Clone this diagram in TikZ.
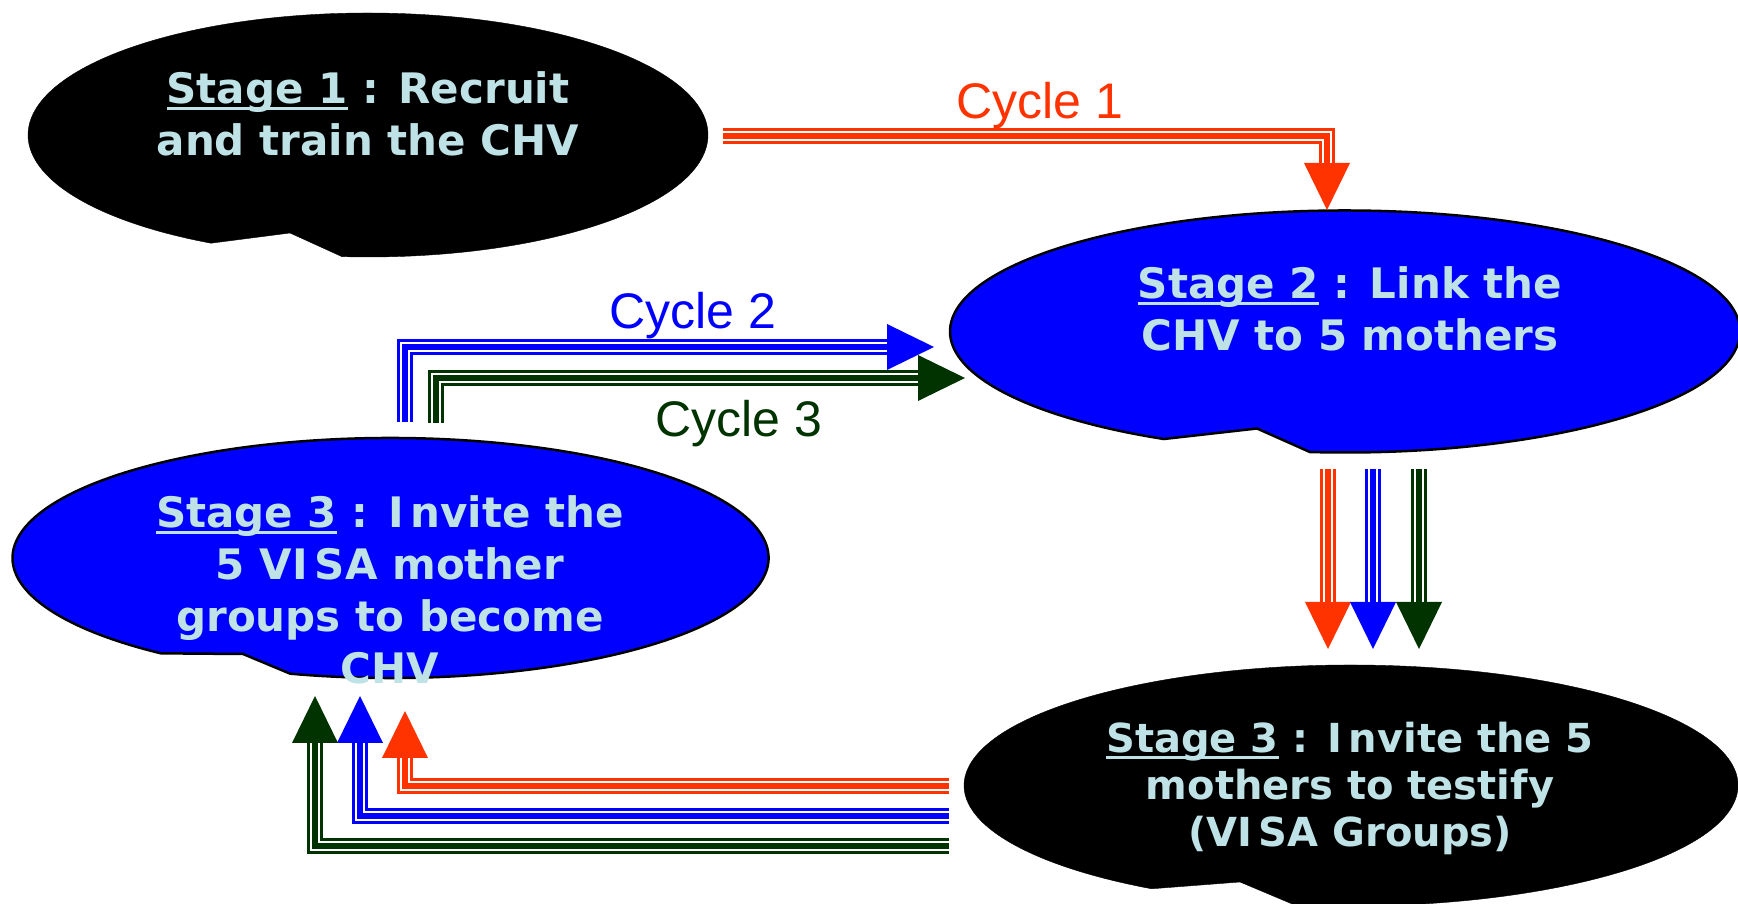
\documentclass[tikz,border=0pt]{standalone}
\usepackage{fontspec}
\setmainfont{DejaVu Sans}
\newfontfamily\cyclefont{Liberation Sans}
\usetikzlibrary{arrows.meta,calc}

\definecolor{cycred}{RGB}{255,51,0}
\definecolor{cycblue}{RGB}{0,0,255}
\definecolor{cycgreen}{RGB}{0,51,0}
\definecolor{stagetext}{RGB}{190,226,230}

% underline just below the baseline, the g runs through it
\newcommand\stageul[1]{\setbox0\hbox{#1}\rlap{\rule[-6.5pt]{\wd0}{3pt}}\box0\relax}

% oval with a notch in its lower edge
% #1 centre, #2 #3 radii, #4 #5 angles where the notch starts/ends, #6 notch tip, #7 look
\newcommand\stagebubble[7]{%
    \filldraw[#7] (#1) ++(#4:#2 and #3)
        arc[start angle=#4, end angle=#5+360, x radius=#2, y radius=#3]
        -- ($(#1)+(#6)$) -- cycle;
}

\begin{document}
\begin{tikzpicture}[x=1pt,y=1pt,
    tripleline/.style={draw=#1, line width=16pt,
        -{Triangle[length=47pt,width=46pt,line width=0pt]},
        postaction={draw=white, line width=10.5pt, shorten >=47pt, -},
        postaction={draw=#1, line width=5.5pt, shorten >=47pt, -}},
    stage/.style={anchor=north, inner sep=0pt, align=center, text=stagetext,
        font=\bfseries\fontsize{42}{52}\selectfont},
    cyclabel/.style={anchor=base, inner sep=0pt, font=\cyclefont\fontsize{50}{60}\selectfont}]
    \fill[white] (0,0) rectangle (1738,904);
    \useasboundingbox (0,0) rectangle (1738,904);

    % the four stages
    \stagebubble{368,769}{340}{122}{265.6}{242.5}{-78,-98}{fill=black}
    \stagebubble{1345,572.5}{395}{121}{264.9}{242.7}{-88,-97}{fill=cycblue,draw=black,line width=2.5pt}
    \stagebubble{390.5,346}{378}{120}{254.6}{232.6}{-147.5,-96}{fill=cycblue,draw=black,line width=2.5pt}
    \stagebubble{1351,118.5}{387}{120.5}{261.5}{239}{-111,-96.5}{fill=black}

    \node[stage] (st1) at (368,832.5) {\stageul{Stage 1} : Recruit\\and train the CHV};
    \node[stage] (st2) at (1350,637.5) {\stageul{Stage 2} : Link the\\CHV to 5 mothers};
    \node[stage] (st3l) at (390,408.5) {\stageul{Stage 3} : I\,nvite the\\5 VI\,SA mother\\groups to become\\CHV};
    \node[stage, font=\bfseries\fontsize{40}{47}\selectfont] (st3r) at (1350,182.5)
        {\stageul{Stage 3} : I\,nvite the 5\\mothers to testify\\(VI\,SA Groups)};

    \node[cyclabel, text=cycred] (lab1) at (1040,785) {Cycle 1};
    \node[cyclabel, text=cycblue] (lab2) at (693,575) {Cycle 2};
    \node[cyclabel, text=cycgreen] (lab3) at (739,467) {Cycle 3};

    % cycle 1 : stage 1 -> stage 2
    \coordinate (c1s) at (723,768);
    \coordinate (c1e) at (1327,694);
    \draw[tripleline=cycred] (c1s) -| (c1e);

    % cycles 2 and 3 : stage 3 -> stage 2
    \coordinate (c2s) at (405,482);
    \coordinate (c2e) at (934,557);
    \coordinate (c3s) at (436,481);
    \coordinate (c3e) at (965,526);
    \draw[tripleline=cycblue] (c2s) |- (c2e);
    \draw[tripleline=cycgreen] (c3s) |- (c3e);

    % stage 2 -> stage 3, one arrow per cycle
    \foreach \col/\x in {cycred/1328,cycblue/1373,cycgreen/1419}{
        \coordinate (dn\col) at (\x,435);
        \coordinate (up\col) at (\x,255);
        \draw[tripleline=\col] (dn\col) -- (up\col);
    }

    % stage 3 -> stage 3, back round the bottom
    \foreach \col/\y/\x/\t in {cycred/118/405/193,cycblue/88/360/208,cycgreen/58/315/208}{
        \coordinate (bs\col) at (949,\y);
        \coordinate (be\col) at (\x,\t);
        \draw[tripleline=\col] (bs\col) -| (be\col);
    }
\end{tikzpicture}
\end{document}
